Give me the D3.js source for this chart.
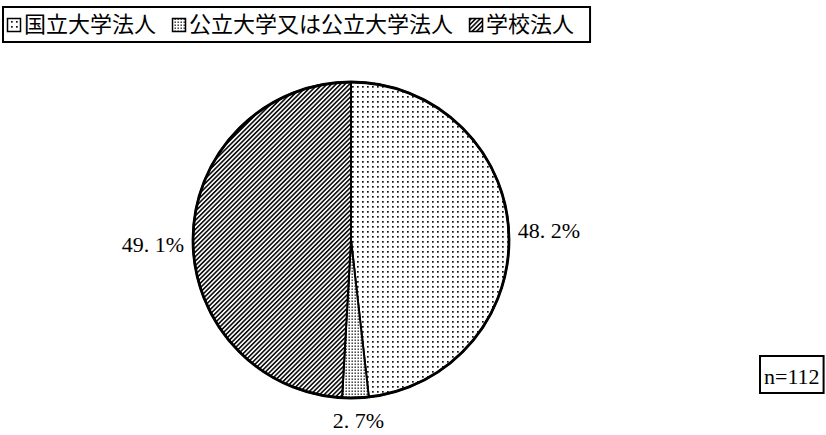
<!DOCTYPE html>
<html>
<head>
<meta charset="utf-8">
<script src="https://cdn.jsdelivr.net/npm/d3@7"></script>
<style>
    html, body { margin: 0; padding: 0; background: #fff; }
    svg { display: block; }
</style>
</head>
<body>
<div id="chart"></div>
<script>
const categories = ["国立大学法人", "公立大学又は公立大学法人", "学校法人"];
const values = [48.2, 2.7, 49.1];
const valueLabels = ["48. 2%", "2. 7%", "49. 1%"];
const patternIds = ["dots", "dense", "hatch"];
const sampleLabel = "n=112";

function init() {
    const width = 826, height = 435;
    const cx = 351, cy = 240, radius = 158;

    const svg = d3.select("#chart")
        .append("svg")
        .attr("width", width)
        .attr("height", height);

    const defs = svg.append("defs");

    // sparse dots
    const p1 = defs.append("pattern")
        .attr("id", "dots")
        .attr("patternUnits", "userSpaceOnUse")
        .attr("width", 5).attr("height", 5);
    p1.append("rect").attr("width", 5).attr("height", 5).attr("fill", "#fff");
    p1.append("rect").attr("x", 1).attr("y", 1).attr("width", 1.7).attr("height", 1.7).attr("fill", "#111");

    // dense dots
    const p2 = defs.append("pattern")
        .attr("id", "dense")
        .attr("patternUnits", "userSpaceOnUse")
        .attr("width", 3).attr("height", 3);
    p2.append("rect").attr("width", 3).attr("height", 3).attr("fill", "#fff");
    p2.append("rect").attr("x", 0.5).attr("y", 0.5).attr("width", 1.4).attr("height", 1.4).attr("fill", "#222");

    // diagonal hatch
    const p3 = defs.append("pattern")
        .attr("id", "hatch")
        .attr("patternUnits", "userSpaceOnUse")
        .attr("width", 3.2).attr("height", 3.2)
        .attr("patternTransform", "rotate(45)");
    p3.append("rect").attr("width", 3.2).attr("height", 3.2).attr("fill", "#fff");
    p3.append("line")
        .attr("x1", 0.8).attr("x2", 0.8)
        .attr("y1", 0).attr("y2", 3.2)
        .attr("stroke", "#111").attr("stroke-width", 1.7);

    // legend
    const legendBox = svg.append("rect");
    const legend = svg.append("g");
    const legendFont = "'Noto Sans CJK JP', 'Noto Sans CJK SC', sans-serif";
    let lx = 7;
    categories.forEach((c, i) => {
        legend.append("rect")
            .attr("x", lx + 0.5).attr("y", 18.5)
            .attr("width", 13).attr("height", 13)
            .attr("fill", `url(#${patternIds[i]})`)
            .attr("stroke", "#000").attr("stroke-width", 1.5);
        const t = legend.append("text")
            .attr("x", lx + 17)
            .attr("y", 32)
            .attr("font-family", legendFont)
            .attr("font-size", 22)
            .attr("fill", "#000")
            .text(c);
        lx += 17 + t.node().getComputedTextLength() + 16;
    });
    legendBox
        .attr("x", 3).attr("y", 7)
        .attr("width", lx - 3).attr("height", 35)
        .attr("fill", "#fff")
        .attr("stroke", "#000").attr("stroke-width", 2);

    // pie
    const pie = d3.pie().sort(null).value(d => d)(values);
    const arc = d3.arc().innerRadius(0).outerRadius(radius);

    const g = svg.append("g").attr("transform", `translate(${cx},${cy})`);

    g.selectAll("path.slice")
        .data(pie)
        .enter()
        .append("path")
        .attr("class", "slice")
        .attr("d", arc)
        .attr("fill", (d, i) => `url(#${patternIds[i]})`)
        .attr("stroke", "#000")
        .attr("stroke-width", 2)
        .attr("stroke-linejoin", "round");

    g.append("circle")
        .attr("r", radius)
        .attr("fill", "none")
        .attr("stroke", "#000")
        .attr("stroke-width", 2.8);

    // value labels
    const labelFont = "'Liberation Serif', 'DejaVu Serif', serif";
    g.selectAll("text.val")
        .data(pie)
        .enter()
        .append("text")
        .attr("class", "val")
        .attr("font-family", labelFont)
        .attr("font-size", 22)
        .attr("fill", "#000")
        .each(function(d, i) {
            const a = (d.startAngle + d.endAngle) / 2;
            const s = Math.sin(a), c = -Math.cos(a);
            const el = d3.select(this);
            if (Math.abs(s) > 0.5) {
                el.attr("x", s * (radius + 9))
                  .attr("y", c * (radius + 9) + 7 + (s < 0 ? 10 : 0))
                  .attr("text-anchor", s > 0 ? "start" : "end");
            } else {
                el.attr("x", s * radius + 3)
                  .attr("y", c * (radius + 30))
                  .attr("text-anchor", "middle");
            }
        })
        .text((d, i) => valueLabels[i]);

    // sample size box
    const nBox = svg.append("rect");
    const nText = svg.append("text")
        .attr("x", 764)
        .attr("y", 384)
        .attr("font-family", labelFont)
        .attr("font-size", 22)
        .attr("fill", "#000")
        .text(sampleLabel);
    const w = nText.node().getComputedTextLength();
    nBox.attr("x", 760).attr("y", 356)
        .attr("width", w + 8).attr("height", 37)
        .attr("fill", "#fff")
        .attr("stroke", "#000").attr("stroke-width", 2);
}

window.onload = init;
</script>
</body>
</html>
